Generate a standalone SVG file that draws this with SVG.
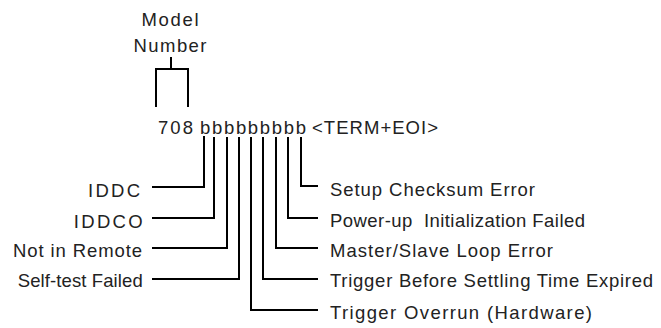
<svg xmlns="http://www.w3.org/2000/svg" width="661" height="328" viewBox="0 0 661 328">
<style>
text{font-family:"Liberation Sans",Arial,sans-serif;font-size:18.5px;fill:#222}
.r{text-anchor:end}
.m{text-anchor:middle}
path{fill:none;stroke:#000;stroke-width:2}
</style>
<rect width="661" height="328" fill="#fff"/>
<g id="title">
<text class="m" x="170" y="26" textLength="57">Model</text>
<text class="m" x="170" y="51.5" textLength="73">Number</text>
</g>
<g id="code">
<text x="158" y="133.5" textLength="35">708</text>
<text x="200" y="133.5" textLength="106">bbbbbbbbb</text>
<text x="312" y="133.5" textLength="126">&lt;TERM+EOI&gt;</text>
</g>
<g id="left-labels">
<text class="r" x="140" y="196.5" textLength="52">IDDC</text>
<text class="r" x="142.7" y="227.5" textLength="69">IDDCO</text>
<text class="r" x="142" y="257" textLength="129">Not in Remote</text>
<text class="r" x="142.7" y="287" textLength="125">Self-test Failed</text>
</g>
<g id="right-labels">
<text x="330" y="195.5" textLength="205">Setup Checksum Error</text>
<text x="330" y="226.5" textLength="255" xml:space="preserve">Power-up  Initialization Failed</text>
<text x="330" y="256.5" textLength="223">Master/Slave Loop Error</text>
<text x="330" y="287" textLength="323">Trigger Before Settling Time Expired</text>
<text x="330" y="318.5" textLength="262">Trigger Overrun (Hardware)</text>
</g>
<g id="connectors">
<path d="M171,57 V69"/>
<path d="M156,107 V69 H188 V107"/>
<path d="M204,136 V187 H152"/>
<path d="M214,137 V218 H152"/>
<path d="M227,137 V248 H152"/>
<path d="M239,137 V279 H152"/>
<path d="M251,137 V310 H318"/>
<path d="M263,137 V279 H318"/>
<path d="M276,137 V248 H318"/>
<path d="M288,137 V218 H318"/>
<path d="M301,137 V186 H318"/>
</g>
</svg>
